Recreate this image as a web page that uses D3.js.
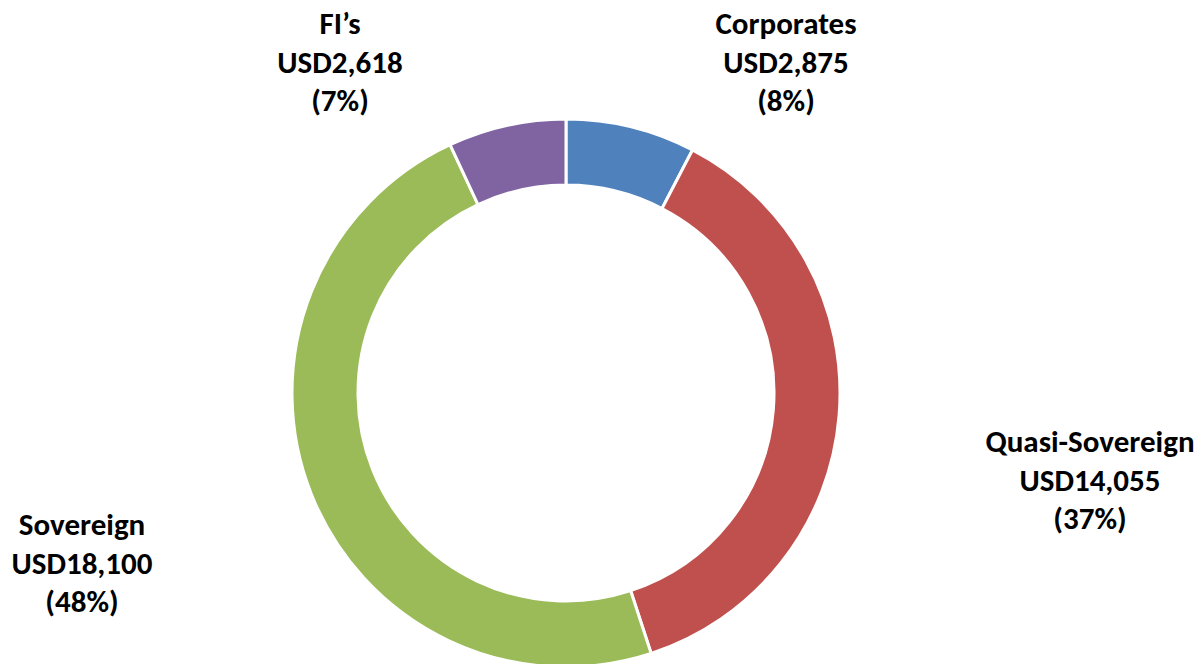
<!DOCTYPE html>
<html>
<head>
<meta charset="utf-8">
<script src="https://cdn.jsdelivr.net/npm/d3@7"></script>
<style>
  html, body { margin: 0; padding: 0; background: #fff; }
  svg { display: block; }
  text { font-family: Carlito, Lato, "Open Sans", sans-serif; font-weight: bold; fill: #000; }
</style>
</head>
<body>
<svg id="chart" width="1200" height="664"></svg>
<script>
const categories = ["Corporates", "Quasi-Sovereign", "Sovereign", "FI\u2019s"];
const values = [2875, 14055, 18100, 2618];
const colors = ["#4F81BD", "#C0504D", "#9BBB59", "#8064A2"];

const W = 1200, H = 664;
const cx = 566, cy = 393;
const outerR = 274, innerR = 208;

const svg = d3.select("#chart");
const g = svg.append("g").attr("transform", `translate(${cx},${cy})`);

const data = categories.map((c, i) => ({ name: c, value: values[i], color: colors[i] }));
const total = d3.sum(values);

const pie = d3.pie().value(d => d.value).sort(null).startAngle(0).endAngle(2 * Math.PI);
const arc = d3.arc().innerRadius(innerR).outerRadius(outerR);

const arcs = pie(data);
g.selectAll("path.slice")
  .data(arcs)
  .enter().append("path")
  .attr("class", "slice")
  .attr("d", arc)
  .attr("fill", d => d.data.color)
  .attr("stroke", "#fff")
  .attr("stroke-width", 3)
  .attr("stroke-linejoin", "miter");

// label anchor positions (centre x, first baseline y)
const labelPos = {
  "Corporates": [786, 34],
  "Quasi-Sovereign": [1090, 452],
  "Sovereign": [82, 535],
  "FI\u2019s": [340, 34]
};
const fontSize = 31, lineGap = 38.5;
const fmtNum = d3.format(",");
const fmtPct = d3.format(".0%");

const labels = svg.selectAll("text.lbl")
  .data(arcs)
  .enter().append("text")
  .attr("class", "lbl")
  .attr("text-anchor", "middle")
  .attr("font-size", fontSize)
  .attr("x", d => labelPos[d.data.name][0])
  .attr("y", d => labelPos[d.data.name][1]);

labels.each(function(d) {
  const t = d3.select(this);
  const lines = [d.data.name, "USD" + fmtNum(d.data.value), "(" + fmtPct(d.data.value / total) + ")"];
  lines.forEach((l, i) => {
    t.append("tspan")
      .attr("x", labelPos[d.data.name][0])
      .attr("dy", i === 0 ? 0 : lineGap)
      .text(l);
  });
});
</script>
</body>
</html>
